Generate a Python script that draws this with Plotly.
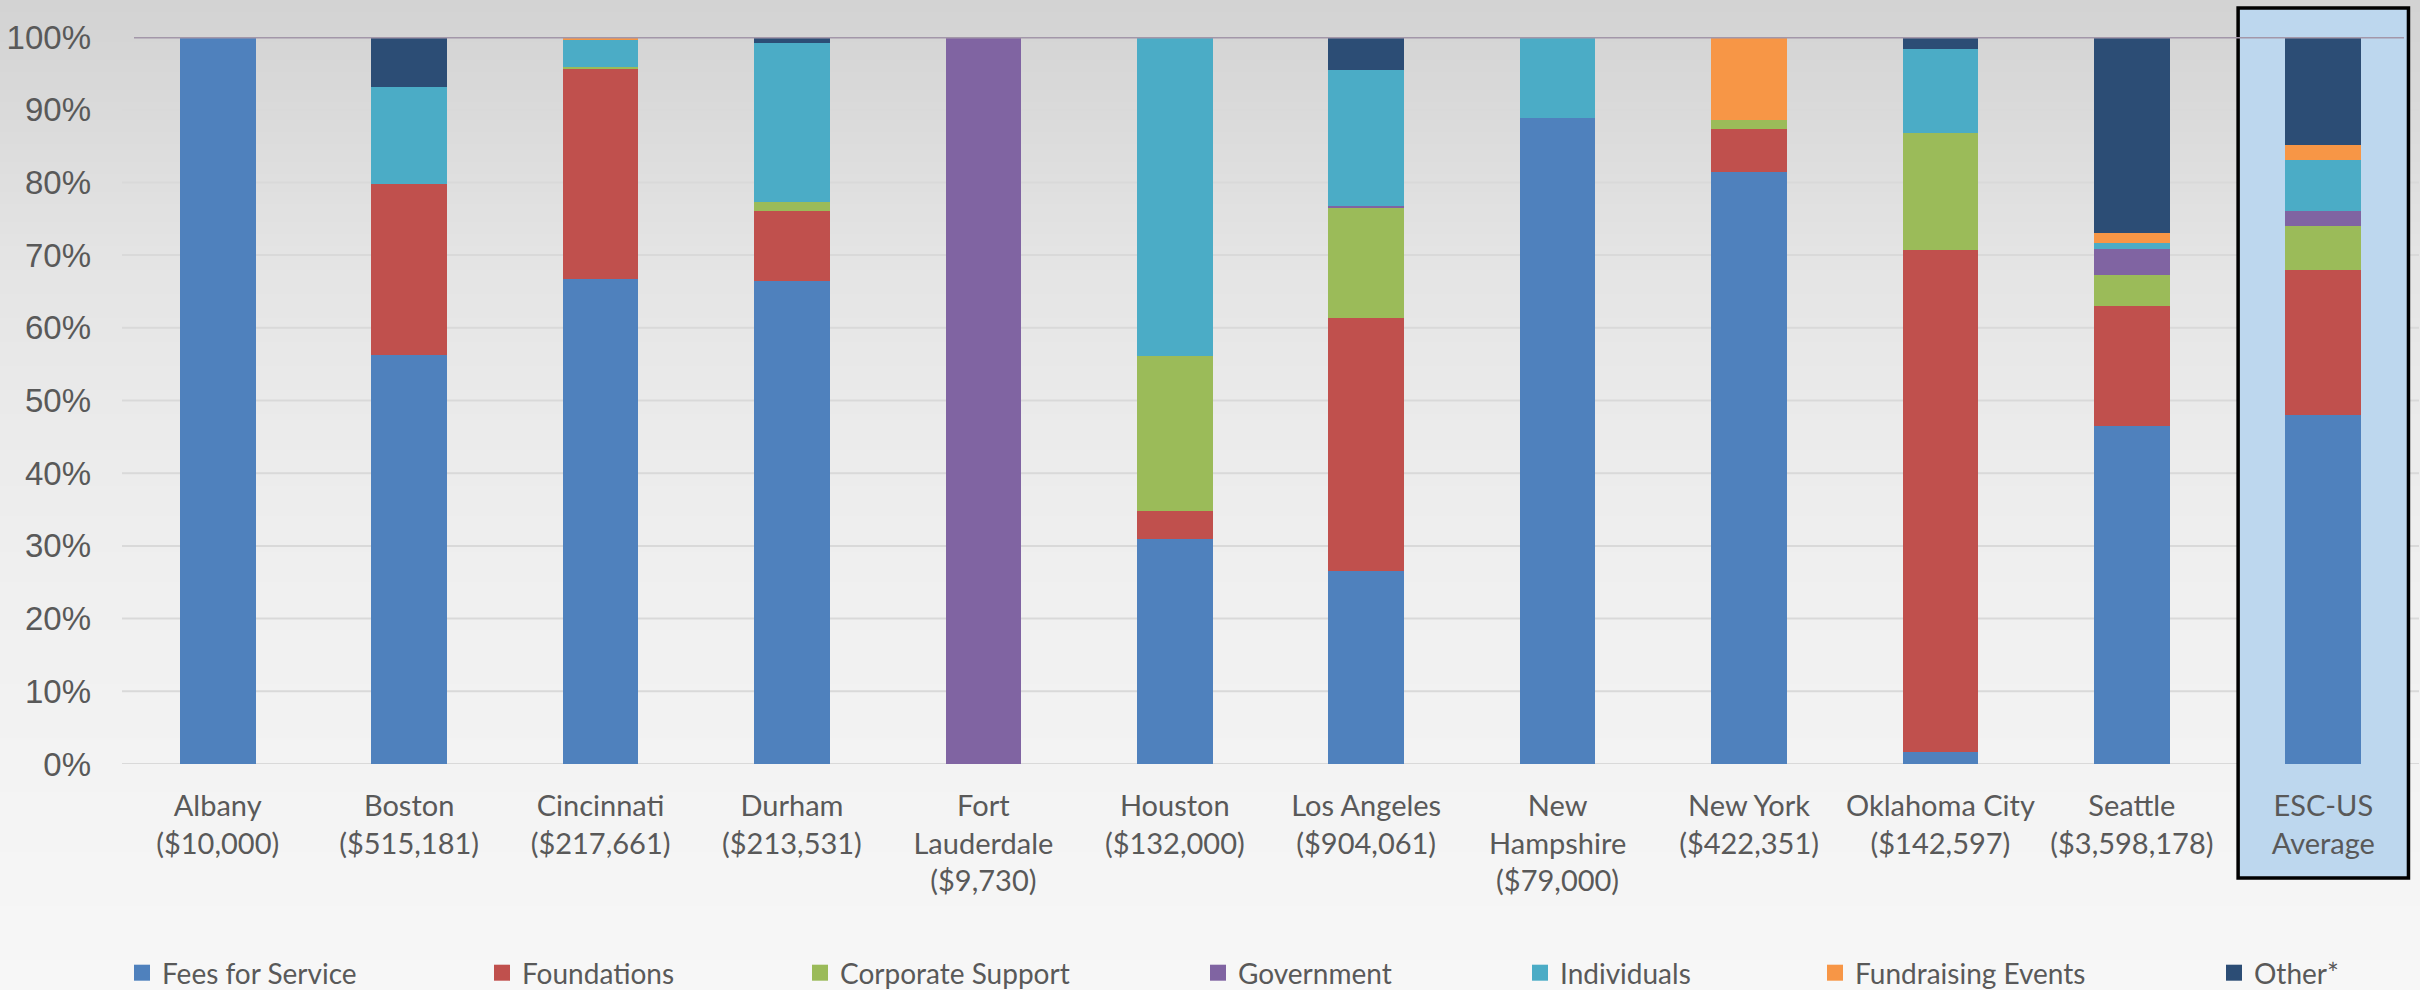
import plotly.graph_objects as go

# Revenue mix by site, in percent of each site's total budget
cities = ["Albany", "Boston", "Cincinnati", "Durham", "Fort<br>Lauderdale", "Houston",
          "Los Angeles", "New<br>Hampshire", "New York", "Oklahoma City", "Seattle",
          "ESC-US<br>Average"]
budgets = ["$10,000", "$515,181", "$217,661", "$213,531", "$9,730", "$132,000",
           "$904,061", "$79,000", "$422,351", "$142,597", "$3,598,178", None]

fees_for_service = [100, 56.3, 66.7, 66.5, 0, 31.0, 26.5, 88.8, 81.4, 1.7, 46.5, 48.0]
foundations = [0, 23.5, 29.0, 9.5, 0, 3.8, 34.8, 0, 6.0, 69.0, 16.5, 20.0]
corporate_support = [0, 0, 0.2, 1.3, 0, 21.3, 15.3, 0, 1.2, 16.1, 4.2, 6.0]
government = [0, 0, 0, 0, 100, 0, 0.2, 0, 0, 0, 3.6, 2.0]
individuals = [0, 13.3, 3.8, 21.9, 0, 43.9, 18.6, 11.2, 0, 11.5, 0.8, 7.1]
fundraising_events = [0, 0, 0.2, 0, 0, 0, 0, 0, 11.4, 0, 1.5, 2.0]
other = [0, 6.9, 0.1, 0.8, 0, 0, 4.6, 0, 0, 1.7, 26.9, 14.9]

y_ticks = [0, 10, 20, 30, 40, 50, 60, 70, 80, 90, 100]

series = [
    ("Fees for Service", fees_for_service, "#4f81bd"),
    ("Foundations", foundations, "#c0504d"),
    ("Corporate Support", corporate_support, "#9bbb59"),
    ("Government", government, "#8064a2"),
    ("Individuals", individuals, "#4bacc6"),
    ("Fundraising Events", fundraising_events, "#f79646"),
    ("Other*", other, "#2c4d75"),
]

W, H = 2420, 990
ML, MR, MT, MB = 122, 1, 37, 226
PW, PH = W - ML - MR, H - MT - MB

label_font = "Lato, 'Open Sans', sans-serif"
axis_font = "'Liberation Sans', Arial, sans-serif"
text_grey = "#595959"

tick_text = [f"{c}<br>({b})" if b else c for c, b in zip(cities, budgets)]
x_pos = list(range(len(cities)))


def px_to_paper_y(py):
    return (MT + PH - py) / PH


def px_to_paper_x(px):
    return (px - ML) / PW


fig = go.Figure()

legend_left_px = [122, 482, 800, 1198, 1520, 1815, 2214]
for i, (name, vals, color) in enumerate(series):
    legend_id = "legend" if i == 0 else f"legend{i + 1}"
    fig.add_trace(go.Bar(
        x=x_pos, y=vals, name=name, marker=dict(color=color, line=dict(width=0)),
        width=0.395, showlegend=False, legendgroup=name,
        hovertemplate="%{y:.1f}%<extra>" + name + "</extra>",
    ))
    fig.add_trace(go.Scatter(
        x=[None], y=[None], mode="markers", name=name, legendgroup=name,
        legend=legend_id,
        marker=dict(symbol="square", size=16, color=color),
    ))

# one single-entry legend per series, spread along the bottom
legends = {}
for i, left in enumerate(legend_left_px):
    key = "legend" if i == 0 else f"legend{i + 1}"
    legends[key] = dict(
        xref="container", yref="container",
        x=left / W, xanchor="left",
        y=1 - 973 / H, yanchor="middle",
        orientation="h", bgcolor="rgba(0,0,0,0)", borderwidth=0,
        font=dict(family=label_font, size=28, color=text_grey),
        itemsizing="trace",
    )

shapes = []

# vertical grey gradient behind everything
stops = [(0, 211), (37, 213), (110, 218), (183, 223), (256, 228), (330, 231),
         (400, 234), (500, 237), (600, 240), (765, 243), (990, 247)]


def grey_at(py):
    for (y0, g0), (y1, g1) in zip(stops[:-1], stops[1:]):
        if y0 <= py <= y1:
            return g0 + (g1 - g0) * (py - y0) / (y1 - y0)
    return stops[-1][1]


band = 6
for top in range(0, H, band):
    g = round(grey_at(top + band / 2))
    shapes.append(dict(
        type="rect", xref="paper", yref="paper", layer="below",
        x0=px_to_paper_x(0), x1=px_to_paper_x(W),
        y0=px_to_paper_y(top + band + 0.5), y1=px_to_paper_y(top),
        fillcolor=f"rgb({g},{g},{g})", line=dict(width=0),
    ))

# horizontal gridlines
for t in y_ticks[:-1]:
    shapes.append(dict(
        type="line", xref="paper", yref="y", layer="below",
        x0=0, x1=1, y0=t, y1=t, line=dict(color="#d9d9d9", width=2),
    ))

# highlight box around the network average
avg_idx = len(cities) - 1
shapes.append(dict(
    type="rect", xref="x", yref="paper", layer="below",
    x0=avg_idx - 0.445, x1=avg_idx + 0.445,
    y0=px_to_paper_y(878), y1=px_to_paper_y(8),
    fillcolor="#bdd7ee", line=dict(color="#000000", width=3.5),
))

# 100% reference line
shapes.append(dict(
    type="line", xref="paper", yref="y", layer="above",
    x0=px_to_paper_x(134), x1=px_to_paper_x(2404), y0=100, y1=100,
    line=dict(color="#a397a9", width=3),
))

fig.update_layout(
    width=W, height=H, autosize=False,
    margin=dict(l=ML, r=MR, t=MT, b=MB, pad=0, autoexpand=False),
    barmode="stack", bargap=0.6,
    paper_bgcolor="#ececec", plot_bgcolor="rgba(0,0,0,0)",
    shapes=shapes,
    **legends,
    xaxis=dict(
        range=[-0.5, len(cities) - 0.5], tickvals=x_pos, ticktext=tick_text,
        showgrid=False, zeroline=False, showline=False, ticks="",
        tickfont=dict(family=label_font, size=29, color=text_grey),
        ticklabelstandoff=22, fixedrange=True, automargin=False,
    ),
    yaxis=dict(
        range=[0, 100], tickvals=y_ticks, ticktext=[f"{t}%" for t in y_ticks],
        showgrid=False, zeroline=False, showline=False, ticks="",
        tickfont=dict(family=axis_font, size=33, color=text_grey),
        ticklabelstandoff=30, fixedrange=True, automargin=False,
    ),
)

fig.write_html("out.html")
